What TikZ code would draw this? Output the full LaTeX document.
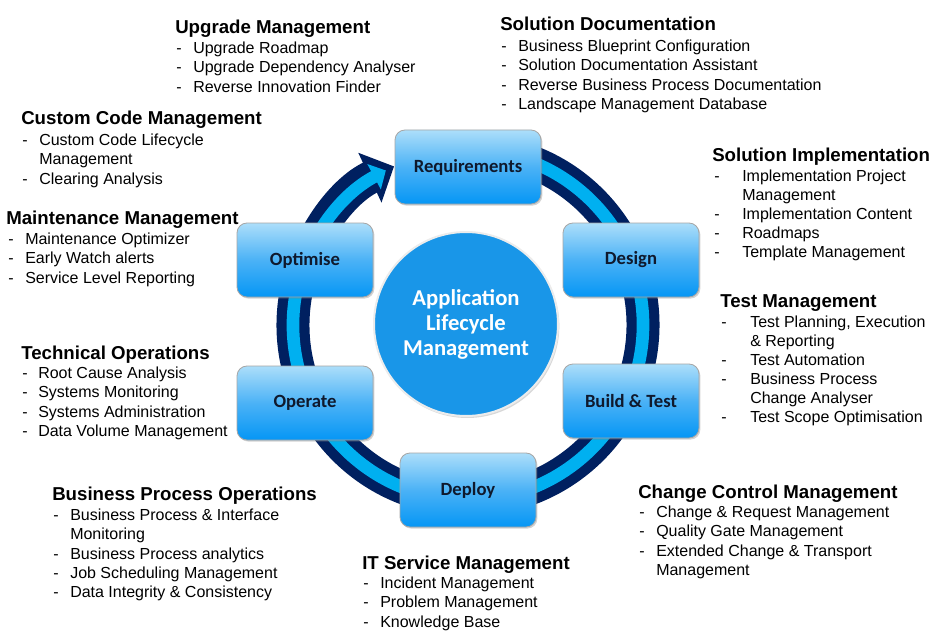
\documentclass[tikz,border=0pt]{standalone}
\usepackage{fontspec}
\setmainfont{Liberation Sans}
\newfontfamily\boxfont{Carlito}
\usetikzlibrary{arrows.meta,shadows}

\definecolor{ringnavy}{RGB}{0,32,96}
\definecolor{ringblue}{RGB}{0,176,240}
\definecolor{boxtop}{RGB}{172,222,250}
\definecolor{boxmid}{RGB}{75,178,246}
\definecolor{boxbot}{RGB}{5,150,245}
\definecolor{hubblue}{RGB}{25,150,232}
\definecolor{boxtext}{RGB}{15,25,45}

\tikzset{
  phase/.style={draw=gray!70, line width=0.6pt, rounded corners=7.5pt,
    top color=boxtop, bottom color=boxbot, middle color=boxmid,
    minimum width=102pt, minimum height=55.5pt, text=boxtext,
    font=\boxfont\bfseries\fontsize{14}{16}\selectfont,
    drop shadow={opacity=0.35, shadow xshift=1pt, shadow yshift=-1.2pt}},
  grptitle/.style={anchor=base west, inner sep=0pt,
    font=\bfseries\fontsize{14}{16}\selectfont},
  grpitem/.style={anchor=base west, inner sep=0pt,
    font=\fontsize{12}{14}\selectfont},
}

\begin{document}
\begin{tikzpicture}[x=0.75pt, y=-0.75pt]
  \fill[white] (0,0) rectangle (940,642);
  \useasboundingbox (0,0) rectangle (940,642);
  % Cycle ring
  \coordinate (ringc) at (468,325);
  \draw[ringnavy, line width=24.75pt, -{Triangle[length=20pt,width=40pt]}]
    ([shift={(80:131.25pt)}]ringc) arc[start angle=80, end angle=-245, radius=131.25pt];
  \draw[ringblue, line width=9.5pt, -{Triangle[length=10pt,width=21pt]}]
    ([shift={(80:131.25pt)}]ringc) arc[start angle=80, end angle=-242, radius=131.25pt];
  % Phases
  \node[phase, minimum width=109.5pt] (req) at (468,167) {Requirements};
  \node[phase] (design) at (631,260) {Design};
  \node[phase] (build) at (631,401) {Build \& Test};
  \node[phase] (deploy) at (468,490) {Deploy};
  \node[phase] (operate) at (305,403) {Operate};
  \node[phase] (optimise) at (305,260) {Optimise};
  % Hub
  \node[circle, fill=hubblue, draw=white!85!gray, line width=1.5pt,
    minimum size=138pt, text=white, align=center,
    font=\boxfont\bfseries\fontsize{17}{18.75}\selectfont,
    drop shadow={opacity=0.3, shadow xshift=1pt, shadow yshift=-1.5pt}]
    (alm) at (466,324) {Application\\Lifecycle\\Management};
  % Upgrade Management
  \node[grptitle] (upg) at (175,34) {Upgrade Management};
  \foreach \d/\t [count=\i] in {-/Upgrade Roadmap, -/Upgrade Dependency Analyser,
      -/Reverse Innovation Finder} {
    \pgfmathsetmacro\y{53.5+(\i-1)*19.3}
    \node[grpitem] (upg-d\i) at (176,\y) {\d};
    \node[grpitem] (upg-\i) at (193,\y) {\t};
  }
  % Solution Documentation
  \node[grptitle] (sdoc) at (500,31) {Solution Documentation};
  \foreach \d/\t [count=\i] in {-/Business Blueprint Configuration,
      -/Solution Documentation Assistant, -/Reverse Business Process Documentation,
      -/Landscape Management Database} {
    \pgfmathsetmacro\y{51.5+(\i-1)*19.3}
    \node[grpitem] (sdoc-d\i) at (501,\y) {\d};
    \node[grpitem] (sdoc-\i) at (518,\y) {\t};
  }
  % Custom Code Management
  \node[grptitle] (ccode) at (21,125) {Custom Code Management};
  \foreach \d/\t [count=\i] in {-/Custom Code Lifecycle, {}/Management,
      -/Clearing Analysis} {
    \pgfmathsetmacro\y{145.5+(\i-1)*19.3}
    \node[grpitem] (ccode-d\i) at (22,\y) {\d};
    \node[grpitem] (ccode-\i) at (39,\y) {\t};
  }
  % Maintenance Management
  \node[grptitle] (maint) at (6,224) {Maintenance Management};
  \foreach \d/\t [count=\i] in {-/Maintenance Optimizer, -/Early Watch alerts,
      -/Service Level Reporting} {
    \pgfmathsetmacro\y{244.5+(\i-1)*19.3}
    \node[grpitem] (maint-d\i) at (8,\y) {\d};
    \node[grpitem] (maint-\i) at (25,\y) {\t};
  }
  % Technical Operations
  \node[grptitle] (tops) at (21,359) {Technical Operations};
  \foreach \d/\t [count=\i] in {-/Root Cause Analysis, -/Systems Monitoring,
      -/Systems Administration, -/Data Volume Management} {
    \pgfmathsetmacro\y{378.5+(\i-1)*19.3}
    \node[grpitem] (tops-d\i) at (22,\y) {\d};
    \node[grpitem] (tops-\i) at (38,\y) {\t};
  }
  % Business Process Operations
  \node[grptitle] (bpo) at (52,500) {Business Process Operations};
  \foreach \d/\t [count=\i] in {-/Business Process \& Interface, {}/Monitoring,
      -/Business Process analytics, -/Job Scheduling Management,
      -/Data Integrity \& Consistency} {
    \pgfmathsetmacro\y{520.5+(\i-1)*19.3}
    \node[grpitem] (bpo-d\i) at (53,\y) {\d};
    \node[grpitem] (bpo-\i) at (70,\y) {\t};
  }
  % IT Service Management
  \node[grptitle] (itsm) at (362,569) {IT Service Management};
  \foreach \d/\t [count=\i] in {-/Incident Management, -/Problem Management,
      -/Knowledge Base} {
    \pgfmathsetmacro\y{588.5+(\i-1)*19.3}
    \node[grpitem] (itsm-d\i) at (363,\y) {\d};
    \node[grpitem] (itsm-\i) at (380,\y) {\t};
  }
  % Change Control Management
  \node[grptitle] (ccm) at (638,498) {Change Control Management};
  \foreach \d/\t [count=\i] in {-/Change \& Request Management,
      -/Quality Gate Management, -/Extended Change \& Transport, {}/Management} {
    \pgfmathsetmacro\y{517.5+(\i-1)*19.3}
    \node[grpitem] (ccm-d\i) at (639,\y) {\d};
    \node[grpitem] (ccm-\i) at (656,\y) {\t};
  }
  % Test Management
  \node[grptitle] (test) at (720,307.5) {Test Management};
  \foreach \d/\t [count=\i] in {-/{Test Planning, Execution}, {}/\& Reporting,
      -/Test Automation, -/Business Process, {}/Change Analyser,
      -/Test Scope Optimisation} {
    \pgfmathsetmacro\y{327.5+(\i-1)*19}
    \node[grpitem] (test-d\i) at (721,\y) {\d};
    \node[grpitem] (test-\i) at (750,\y) {\t};
  }
  % Solution Implementation
  \node[grptitle] (simpl) at (712,161.5) {Solution Implementation};
  \foreach \d/\t [count=\i] in {-/Implementation Project, {}/Management,
      -/Implementation Content, -/Roadmaps, -/Template Management} {
    \pgfmathsetmacro\y{181.5+(\i-1)*19}
    \node[grpitem] (simpl-d\i) at (714,\y) {\d};
    \node[grpitem] (simpl-\i) at (742,\y) {\t};
  }
\end{tikzpicture}
\end{document}
